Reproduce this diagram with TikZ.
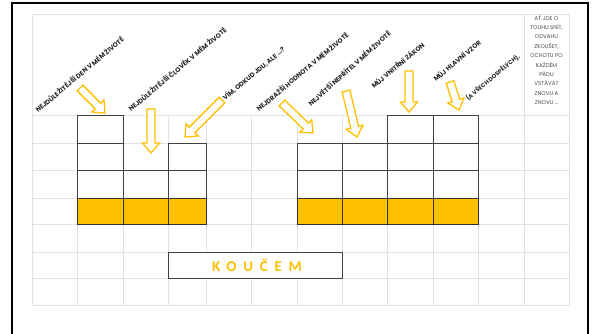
\documentclass[tikz,border=0pt]{standalone}
\usepackage{fontspec}
\setmainfont{Poppins}
\newfontfamily\koufont[LetterSpace=45]{Carlito}
\usetikzlibrary{calc}
\definecolor{gold}{HTML}{FFC000}
\definecolor{gridgray}{HTML}{E2E2E2}
\tikzset{
  gridline/.style={draw=gridgray, line width=0.8pt},
  cellbox/.style={draw=black!75, line width=0.9pt, fill=white},
  goldbox/.style={draw=black!80, line width=0.9pt, fill=gold},
  blockarr/.style={draw=gold, fill=white, line width=1.3pt, line join=miter},
  lbl/.style={font=\fontsize{6.5}{7}\selectfont\bfseries, text=black!85, inner sep=0pt, anchor=base west, rotate=40},
}
\newcommand\blkarrow[2]{%
  \coordinate (hb) at ($(#2)!10pt!(#1)$);
  \draw[blockarr] ($(#1)!4pt!90:(#2)$) -- ($(hb)!4pt!90:(#2)$) -- ($(hb)!8.5pt!90:(#2)$) -- (#2) -- ($(hb)!8.5pt!-90:(#2)$) -- ($(hb)!4pt!-90:(#2)$) -- ($(#1)!4pt!-90:(#2)$) -- cycle;}
\begin{document}
\begin{tikzpicture}[x=1pt,y=-1pt]
\useasboundingbox (0,0) rectangle (592,333);
\clip (0,0) rectangle (592,333);
\fill[white] (0,0) rectangle (592,333);
% outer frame
\draw[line width=1.6pt] (12,345) -- (12,3) -- (588,3) -- (588,345);
% grid
\foreach \x in {77,123,168,206,251,297,342,387,433,478}
  \draw[gridline] (\x,115) -- (\x,305);
\foreach \x in {32,524,569}
  \draw[gridline] (\x,14) -- (\x,305);
\foreach \y in {14,115,143,170,198,224,252,278,305}
  \draw[gridline] (32,\y) -- (569,\y);
% white cells
\foreach \xa/\xb/\ya/\yb in {77/123/115/143,77/123/143/170,77/123/170/198,
  123/168/170/198,168/206/143/170,168/206/170/198,
  297/342/143/170,297/342/170/198,342/387/143/170,342/387/170/198,
  387/433/115/143,387/433/143/170,387/433/170/198,
  433/478/115/143,433/478/143/170,433/478/170/198}
  \draw[cellbox] (\xa,\ya) rectangle (\xb,\yb);
% gold cells
\foreach \xa/\xb in {77/123,123/168,168/206,297/342,342/387,387/433,433/478}
  \draw[goldbox] (\xa,198) rectangle (\xb,224);
% KOUCEM
\draw[cellbox] (168,252) rectangle (342,278);
\node (kou) at (257,265.5) {\koufont\fontsize{15}{16}\selectfont\bfseries\color{gold}KOUČEM};
% labels
\node[lbl] (l1) at (38,113) {NEJDŮLEŽITĚJŠÍ DEN V MÉM ŽIVOTĚ};
\node[lbl] (l2) at (131,112) {NEJDŮLEŽITĚJŠÍ ČLOVĚK V MÉM ŽIVOTĚ};
\node[lbl] (l3) at (225,101) {VÍM, ODKUD JDU, ALE …?};
\node[lbl] (l4) at (259,112) {NEJDRAŽŠÍ HODNOTA V MÉM ŽIVOTĚ};
\node[lbl, rotate=2] (l5) at (311,107) {NEJVĚTŠÍ NEPŘÍTEL V MÉM ŽIVOTĚ};
\node[lbl] (l6) at (374,89) {MŮJ VNITŘNÍ ZÁKON};
\node[lbl] (l7) at (436,82) {MŮJ HLAVNÍ VZOR};
\node[lbl, font=\fontsize{5.8}{6}\selectfont\bfseries] (l8) at (468,101) {(A VŠECH DOSPĚLÝCH),};
\node[font=\fontsize{5.5}{9.4}\selectfont, text=black!70, align=center, inner sep=0pt] (motto) at (546.5,60)
 {AŤ JDE O\\TOUHU SNÍT,\\ODVAHU\\ZKOUŠET,\\OCHOTU PO\\KAŽDÉM\\PÁDU\\VSTÁVAT\\ZNOVU A\\ZNOVU …};
% arrows
\coordinate (t1) at (80,88);   \coordinate (h1) at (105,113);
\coordinate (t2) at (151,109); \coordinate (h2) at (151,153);
\coordinate (t3) at (222,100); \coordinate (h3) at (185,137);
\coordinate (t4) at (282,103); \coordinate (h4) at (313,133);
\coordinate (t5) at (346,91);  \coordinate (h5) at (357,137);
\coordinate (t6) at (409,71);  \coordinate (h6) at (409,112);
\coordinate (t7) at (450,82);  \coordinate (h7) at (459,110);
\blkarrow{t1}{h1}
\blkarrow{t2}{h2}
\blkarrow{t3}{h3}
\blkarrow{t4}{h4}
\blkarrow{t5}{h5}
\blkarrow{t6}{h6}
\blkarrow{t7}{h7}
\end{tikzpicture}
\end{document}
